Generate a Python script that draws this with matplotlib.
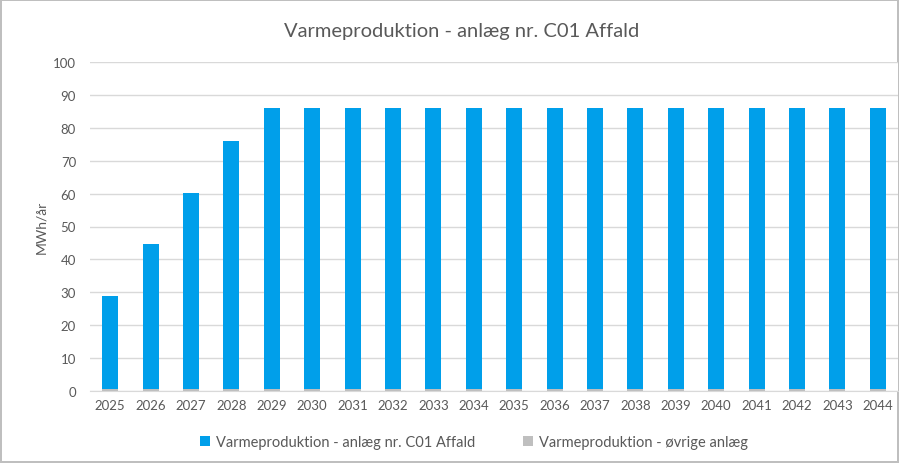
import matplotlib.pyplot as plt
import numpy as np

years = [str(y) for y in range(2025, 2045)]
affald = [28.9, 44.6, 60.3, 76.0] + [86.0] * 16
oevrige = [0.6] * 20

plt.rcParams['font.family'] = ['Lato', 'DejaVu Sans']
text_col = '#595959'

fig = plt.figure(figsize=(8.99, 4.64), dpi=100)
fig.patch.set_edgecolor('#BFBFBF')
fig.patch.set_linewidth(1.5)
ax = fig.add_axes([90 / 899, 1 - 392 / 464, 808 / 899, 329 / 464])

x = np.arange(len(years))
ax.bar(x, affald, width=0.4, color='#009FEA', label='Varmeproduktion - anlæg nr. C01 Affald', zorder=3)
ax.bar(x, oevrige, width=0.4, color='#BFBFBF', label='Varmeproduktion - øvrige anlæg', zorder=4)

ax.set_ylim(0, 100)
ax.set_xlim(-0.5, len(years) - 0.5)
ax.set_yticks(range(0, 101, 10))
ax.set_xticks(x)
ax.set_xticklabels(years)
ax.tick_params(length=0, colors=text_col, labelsize=9.5)
ax.tick_params(axis='y', pad=10)
ax.tick_params(axis='x', pad=6)
ax.grid(axis='y', color='#D9D9D9', linewidth=1, zorder=0)
for s in ['top', 'right', 'left']:
    ax.spines[s].set_visible(False)
ax.spines['bottom'].set_color('#D9D9D9')
ax.spines['bottom'].set_zorder(2)

ax.set_ylabel('MWh/år', color=text_col, fontsize=10, labelpad=4)
fig.text(462 / 899, 1 - 32 / 464, 'Varmeproduktion - anlæg nr. C01 Affald',
         ha='center', va='center', fontsize=14.5, color=text_col)

fig.legend(loc='center', bbox_to_anchor=(474 / 899, 1 - 443 / 464), ncol=2, frameon=False,
           fontsize=10.5, labelcolor=text_col, handlelength=0.7, handleheight=0.7,
           handletextpad=0.4, columnspacing=3.3)

fig.savefig('out.png', dpi=100)
